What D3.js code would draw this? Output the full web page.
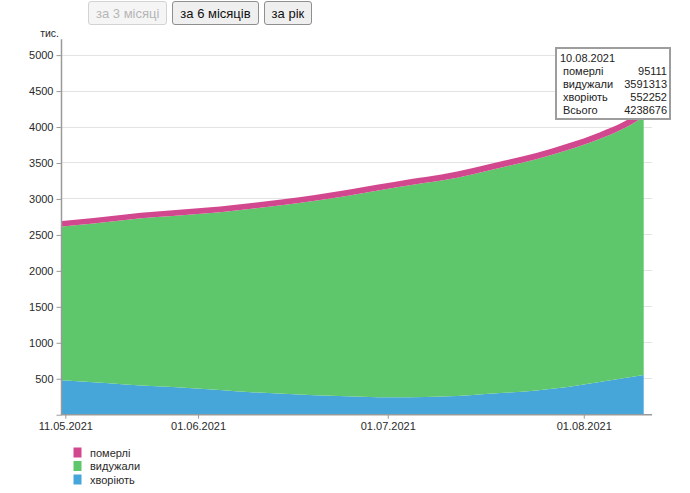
<!DOCTYPE html>
<html>
<head>
<meta charset="utf-8">
<script src="https://cdn.jsdelivr.net/npm/d3@7"></script>
<style>
  html, body { margin: 0; padding: 0; background: #fff; }
  body { width: 690px; height: 493px; position: relative; overflow: hidden; font-family: "Liberation Sans", Arial, sans-serif; }
  #btns { position: absolute; left: 88px; top: 1px; display: flex; gap: 5px; }
  #btns button { font: 13px "Liberation Sans", Arial, sans-serif; height: 24px; padding: 0 7px; border: 1px solid #8f8f8f; border-radius: 3px; background: #efefef; color: #111; }
  #btns button:disabled { color: #b5b5b5; border-color: #d3d3d3; background: #f5f5f5; }
  svg { position: absolute; left: 0; top: 0; }
</style>
</head>
<body>
<div id="btns"></div>
<svg id="chart" width="690" height="493"></svg>
<script>
// ---- data ----
const dates = ["10.05.2021","15.05.2021","20.05.2021","25.05.2021","30.05.2021","04.06.2021","09.06.2021","14.06.2021","19.06.2021","24.06.2021","29.06.2021","04.07.2021","09.07.2021","14.07.2021","19.07.2021","24.07.2021","29.07.2021","03.08.2021","07.08.2021","10.08.2021"];
const died = [74500,75500,76400,77300,78200,79000,79800,80600,81400,82200,83000,83900,84800,85800,86900,88100,89500,91300,93300,95111];
const recovered = [2139500,2209500,2288600,2352700,2409800,2471000,2552200,2624400,2701600,2784800,2873000,2948100,3003200,3069200,3143100,3213900,3295500,3378700,3476700,3591313];
const active = [478000,450000,420000,395000,372000,345000,313000,290000,272000,258000,244000,243000,252000,275000,305000,338000,385000,455000,510000,552252];
const seriesNames = ["хворіють","видужали","померлі"];
const seriesColors = ["#47a6d9","#5fc76b","#d2488f"];
const yTicks = [0,500,1000,1500,2000,2500,3000,3500,4000,4500,5000];
const xTickDates = ["11.05.2021","01.06.2021","01.07.2021","01.08.2021"];
const buttonLabels = ["за 3 місяці","за 6 місяців","за рік"];
const unitLabel = "тис.";
const totalLabel = "Всього";
const tooltipIndex = dates.length - 1;
const reportHour = 11.5;

(function () {
// ---- buttons ----
d3.select("#btns").selectAll("button").data(buttonLabels).join("button")
  .text(d => d).property("disabled", (d, i) => i === 0);

// ---- scales ----
const parse = d3.timeParse("%d.%m.%Y");
const rows = dates.map((s, i) => {
  const d = parse(s);
  d.setTime(d.getTime() + reportHour * 3600e3);
  return { date: d, label: s, active: active[i] / 1000, recovered: recovered[i] / 1000, died: died[i] / 1000 };
});
const pL = 62, pR = 652, pT = 39.3, pB = 414.7;
const x = d3.scaleTime()
  .domain([rows[0].date, new Date(2021, 7, 11, 19, 0)])
  .range([pL, pR]);
const y = d3.scaleLinear().domain([0, 5220]).range([pB, pT]);

const svg = d3.select("#chart");
const keys = ["active", "recovered", "died"];
const stack = d3.stack().keys(keys)(rows);

// gridlines
svg.append("g").selectAll("line").data(yTicks.filter(v => v > 0)).join("line")
  .attr("x1", pL).attr("x2", pR)
  .attr("y1", d => y(d)).attr("y2", d => y(d))
  .attr("stroke", "#e3e3e3").attr("stroke-width", 1).attr("shape-rendering", "crispEdges");

// areas
const area = d3.area()
  .x(d => x(d.data.date))
  .y0(d => y(d[0])).y1(d => y(d[1]))
  .curve(d3.curveMonotoneX);
svg.append("g").selectAll("path").data(stack).join("path")
  .attr("d", area).attr("fill", (d, i) => seriesColors[i]);

// axes
const yAxis = d3.axisLeft(y).tickValues(yTicks).tickSize(5).tickPadding(3)
  .tickFormat(d => d === 0 ? "" : d);
const gy = svg.append("g").attr("transform", `translate(${pL - 0.5},0)`).call(yAxis);
const xAxis = d3.axisBottom(x).tickValues(xTickDates.map(parse)).tickSize(4).tickPadding(4)
  .tickFormat(d3.timeFormat("%d.%m.%Y"));
const gx = svg.append("g").attr("transform", `translate(0,${pB})`).call(xAxis);
[gx, gy].forEach(g => {
  g.select(".domain").attr("stroke", "#9a9a9a").attr("stroke-width", 1.5);
  g.selectAll(".tick line").attr("stroke", "#9a9a9a");
  g.selectAll(".tick text").attr("fill", "#2a2a2a").style("font-size", "11px")
    .style("font-family", "'Liberation Sans', Arial, sans-serif");
});
gx.select(".domain").attr("d", `M${pL - 1},0H${pR}`);
gy.select(".domain").attr("d", `M0,${pT}V${pB}`);

svg.append("text").attr("x", 59).attr("y", 33).attr("text-anchor", "end")
  .attr("dominant-baseline", "central").attr("fill", "#2a2a2a")
  .style("font-size", "10.5px").text(unitLabel);

// legend
const legendOrder = [2, 1, 0];
const lg = svg.append("g").selectAll("g").data(legendOrder).join("g")
  .attr("transform", (d, i) => `translate(73.5,${447.5 + i * 13.5})`);
lg.append("rect").attr("width", 8).attr("height", 10).attr("fill", d => seriesColors[d]);
lg.append("text").attr("x", 16.5).attr("y", 5.3).attr("dominant-baseline", "central")
  .attr("fill", "#2a2a2a").style("font-size", "11px").text(d => seriesNames[d]);

// tooltip
const t = rows[tooltipIndex];
const tipRows = [
  ["померлі", died[tooltipIndex]],
  ["видужали", recovered[tooltipIndex]],
  ["хворіють", active[tooltipIndex]],
  [totalLabel, died[tooltipIndex] + recovered[tooltipIndex] + active[tooltipIndex]]
];
const tip = svg.append("g").attr("transform", "translate(556,48)");
tip.append("rect").attr("width", 114).attr("height", 71)
  .attr("fill", "#fff").attr("stroke", "#9d9d9d").attr("stroke-width", 2);
tip.append("text").attr("x", 4).attr("y", 10).attr("dominant-baseline", "central")
  .attr("fill", "#222").style("font-size", "11px").text(t.label);
const tr = tip.selectAll("g.r").data(tipRows).join("g").attr("class", "r")
  .attr("transform", (d, i) => `translate(0,${23 + i * 13})`);
tr.append("text").attr("x", 7).attr("dominant-baseline", "central")
  .attr("fill", "#222").style("font-size", "11px").text(d => d[0]);
tr.append("text").attr("x", 111).attr("text-anchor", "end").attr("dominant-baseline", "central")
  .attr("fill", "#222").style("font-size", "11px").text(d => d[1]);
})();
</script>
</body>
</html>
